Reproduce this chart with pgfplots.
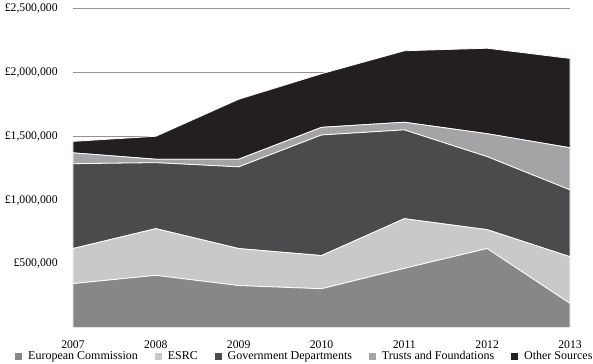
\documentclass[border=0pt]{standalone}
\usepackage{fontspec}
\setmainfont{Liberation Serif}
\usepackage{pgfplots}
\pgfplotsset{compat=1.18}
\usetikzlibrary{calc}
\definecolor{cEC}{HTML}{87878A}
\definecolor{cESRC}{HTML}{C9C9C9}
\definecolor{cGov}{HTML}{4B4B4D}
\definecolor{cTrust}{HTML}{A4A4A6}
\definecolor{cOther}{HTML}{231F20}
\definecolor{cGrid}{HTML}{939393}
\begin{document}
\begin{tikzpicture}[x=1pt,y=1pt]
\begin{axis}[
  name=ax,
  scale only axis,
  width=372.75pt, height=239.25pt,
  xmin=2007, xmax=2013, ymin=0, ymax=2500000,
  enlargelimits=false,
  stack plots=y,
  axis on top=false,
  axis line style={draw=none},
  tick style={draw=none},
  ymajorgrids,
  grid style={cGrid, line width=0.9pt},
  xtick={2007,2008,2009,2010,2011,2012,2013},
  xticklabels={2007,2008,2009,2010,2011,2012,2013},
  ytick={500000,1000000,1500000,2000000,2500000},
  yticklabels={{£500,000},{£1,000,000},{£1,500,000},{£2,000,000},{£2,500,000}},
  ticklabel style={font=\fontsize{8.8}{10}\selectfont},
  yticklabel style={xshift=-8pt},
  xticklabel style={yshift=-6.5pt},
  legend columns=5,
  legend style={draw=none, fill=none, inner sep=0pt,
    nodes={inner sep=0pt},
    at={(rel axis cs:0,0)}, anchor=west, xshift=-43.5pt, yshift=-21.75pt,
    font=\fontsize{9}{10}\selectfont,
    /tikz/every odd column/.append style={column sep=4.5pt},
    /tikz/every even column/.append style={column sep=12.75pt}},
  legend image code/.code={\fill[#1,draw=none] (0pt,-2.6pt) rectangle (5.2pt,2.6pt);},
]
\addplot[fill=cEC, draw=white, line width=0.6pt] coordinates {(2007,345000) (2008,410000) (2009,330000) (2010,305000) (2011,465000) (2012,620000) (2013,190000)} \closedcycle;
\addlegendentry{European Commission}
\addplot[fill=cESRC, draw=white, line width=0.6pt] coordinates {(2007,275000) (2008,366000) (2009,290000) (2010,260000) (2011,389000) (2012,148000) (2013,366000)} \closedcycle;
\addlegendentry{ESRC}
\addplot[fill=cGov, draw=white, line width=0.6pt] coordinates {(2007,665000) (2008,517000) (2009,640000) (2010,945000) (2011,696000) (2012,572000) (2013,524000)} \closedcycle;
\addlegendentry{Government Departments}
\addplot[fill=cTrust, draw=white, line width=0.6pt] coordinates {(2007,85000) (2008,27000) (2009,60000) (2010,60000) (2011,60000) (2012,180000) (2013,330000)} \closedcycle;
\addlegendentry{Trusts and Foundations}
\addplot[fill=cOther, draw=white, line width=0.6pt] coordinates {(2007,90000) (2008,180000) (2009,470000) (2010,420000) (2011,560000) (2012,670000) (2013,700000)} \closedcycle;
\addlegendentry{Other Sources}
\end{axis}
\pgfresetboundingbox
\path[use as bounding box] ($(ax.south west)+(-54.75pt,-27pt)$) rectangle ($(ax.north east)+(17.25pt,6.5pt)$);
\end{tikzpicture}
\end{document}
